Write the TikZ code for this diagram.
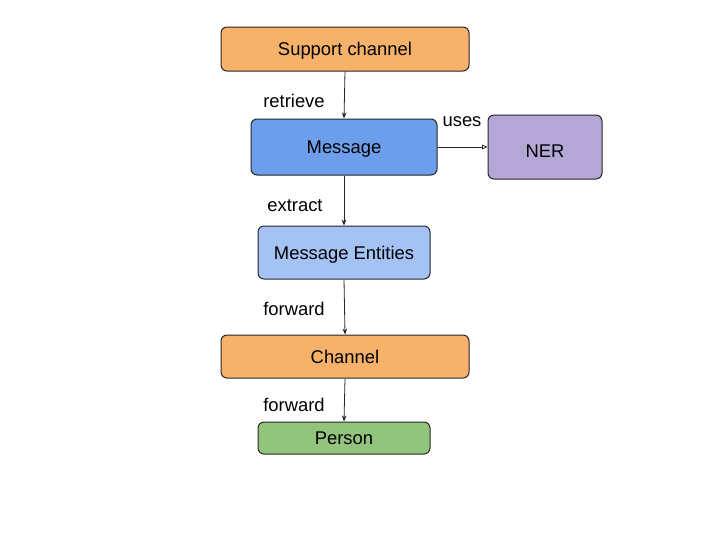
\documentclass[tikz,border=0pt]{standalone}
\usepackage{fontspec}
\setmainfont{Liberation Sans}
\usetikzlibrary{arrows.meta}
\definecolor{orangebox}{HTML}{F6B26B}
\definecolor{bluebox}{HTML}{6D9EEB}
\definecolor{lightbluebox}{HTML}{A4C2F4}
\definecolor{purplebox}{HTML}{B4A7D6}
\definecolor{greenbox}{HTML}{93C47D}
\tikzset{
	box/.style={draw=black!85, line width=0.75pt, rounded corners=4.5pt, inner sep=0pt, text height=9.9pt, text depth=0pt, font=\fontsize{13.8}{16}\selectfont},
	lbl/.style={inner sep=0.75pt, font=\fontsize{13.8}{16}\selectfont},
	flow/.style={draw=black!85, line width=0.6pt, -{Stealth[length=4.5pt,width=3.5pt]}},
}
\begin{document}
\begin{tikzpicture}[x=0.75pt,y=0.75pt,yscale=-1,xscale=1]
	\useasboundingbox (0,0) rectangle (720,540);
	
	%Shape: Rectangle [support]
	\node [box, fill=orangebox, minimum width=186pt, minimum height=33pt] (support) at (345,49) {Support channel};
	%Shape: Rectangle [message]
	\node [box, fill=bluebox, minimum width=139.5pt, minimum height=42pt] (message) at (344,147) {Message};
	%Shape: Rectangle [ner]
	\node [box, fill=purplebox, minimum width=85.5pt, minimum height=48pt, text height=15.9pt] (ner) at (545,147) {NER};
	%Shape: Rectangle [entities]
	\node [box, fill=lightbluebox, minimum width=129pt, minimum height=39.75pt] (entities) at (344,252.5) {Message Entities};
	%Shape: Rectangle [channel]
	\node [box, fill=orangebox, minimum width=186pt, minimum height=32.25pt] (channel) at (345,356.5) {Channel};
	%Shape: Rectangle [person]
	\node [box, fill=greenbox, minimum width=129pt, minimum height=24pt] (person) at (344,438) {Person};
	
	%Straight Lines
	\draw [flow] (support.south) -- (message.north);
	\draw [flow] (message.south) -- (entities.north);
	\draw [flow] (entities.south) -- (channel.north);
	\draw [flow] (channel.south) -- (person.north);
	\draw [draw=black!85, line width=0.6pt, -{Triangle[open,length=4pt,width=3.5pt]}] (message.east) -- (ner.west);
	
	% Text Node
	\node [lbl] (retrieve) at (294,101) {retrieve};
	% Text Node
	\node [lbl] (uses) at (462,121.5) {uses};
	% Text Node
	\node [lbl] (extract) at (295,205.5) {extract};
	% Text Node
	\node [lbl] (forward1) at (294,309) {forward};
	% Text Node
	\node [lbl] (forward2) at (294,405) {forward};
	
\end{tikzpicture}
\end{document}
